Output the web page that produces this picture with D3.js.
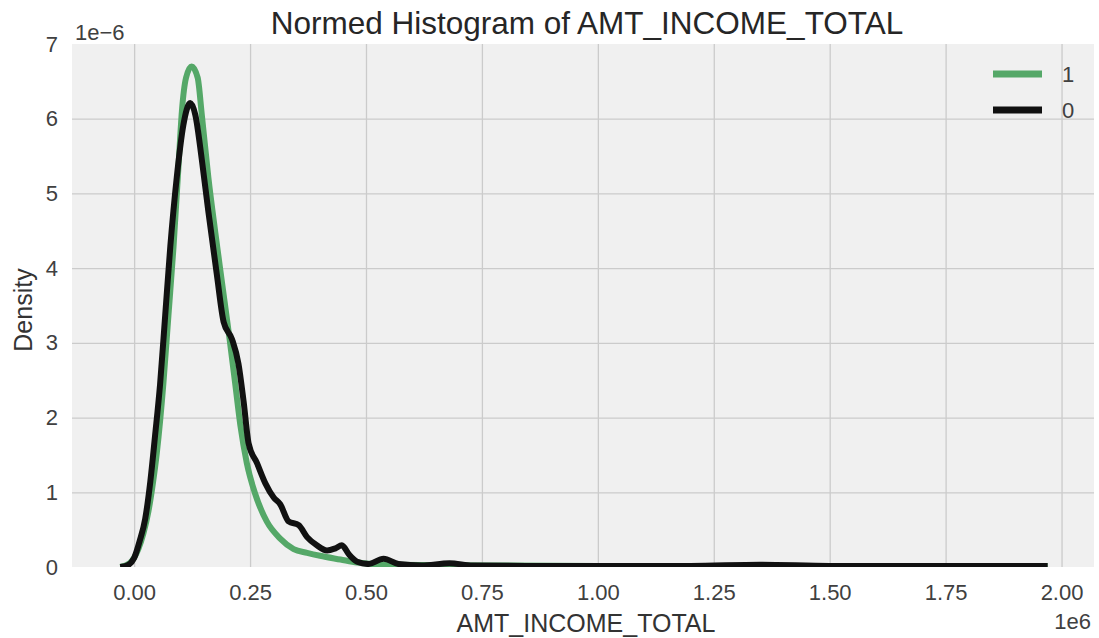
<!DOCTYPE html>
<html>
<head>
<meta charset="utf-8">
<script src="https://cdn.jsdelivr.net/npm/d3@7"></script>
<style>
  body { margin: 0; background: #ffffff; }
  svg { display: block; font-family: "Liberation Sans", Arial, sans-serif; }
  .grid-line { stroke: #cbcbcb; stroke-width: 1.3; }
  .tick text { fill: #404040; font-size: 22px; }
</style>
</head>
<body>
<svg></svg>
<script>
// values: x in units of 1e6, density in units of 1e-6
const income0 = [-0.030, -0.015, 0.000, 0.012, 0.024, 0.035, 0.045, 0.056, 0.067, 0.078, 0.092, 0.106, 0.121, 0.132, 0.146, 0.160, 0.178, 0.193, 0.211, 0.225, 0.236, 0.247, 0.265, 0.283, 0.301, 0.315, 0.333, 0.355, 0.373, 0.394, 0.416, 0.434, 0.448, 0.463, 0.481, 0.505, 0.538, 0.570, 0.620, 0.680, 0.730, 0.850, 1.000, 1.200, 1.350, 1.500, 1.750, 1.970];
const density0 = [0.00, 0.02, 0.12, 0.35, 0.65, 1.15, 1.75, 2.45, 3.37, 4.29, 5.22, 5.91, 6.21, 6.05, 5.45, 4.76, 3.93, 3.28, 3.05, 2.72, 2.22, 1.65, 1.39, 1.12, 0.93, 0.84, 0.61, 0.56, 0.40, 0.29, 0.22, 0.25, 0.29, 0.17, 0.07, 0.04, 0.11, 0.04, 0.02, 0.05, 0.02, 0.015, 0.015, 0.015, 0.03, 0.015, 0.015, 0.015];

const income1 = [-0.030, -0.010, 0.009, 0.020, 0.031, 0.040, 0.049, 0.063, 0.074, 0.085, 0.096, 0.103, 0.112, 0.124, 0.137, 0.146, 0.160, 0.175, 0.189, 0.204, 0.218, 0.229, 0.243, 0.261, 0.286, 0.315, 0.344, 0.373, 0.401, 0.445, 0.481, 0.550, 0.750, 1.000, 1.500, 1.970];
const density1 = [0.00, 0.05, 0.24, 0.45, 0.75, 1.10, 1.53, 2.45, 3.37, 4.29, 5.40, 6.10, 6.55, 6.70, 6.55, 6.05, 5.22, 4.48, 3.83, 3.14, 2.45, 1.90, 1.39, 0.98, 0.61, 0.38, 0.24, 0.19, 0.15, 0.10, 0.06, 0.03, 0.02, 0.015, 0.015, 0.015];

const xTicks = [0, 0.25, 0.5, 0.75, 1.0, 1.25, 1.5, 1.75, 2.0];
const yTicks = [0, 1, 2, 3, 4, 5, 6, 7];
const seriesNames = ["1", "0"];
const seriesColors = ["#55a868", "#111111"];

let width = 1099;
let height = 638;
let plotLeft = 72, plotRight = 1094, plotTop = 44, plotBottom = 567;

let svg = d3.select("svg")
  .attr("width", width)
  .attr("height", height);

// scales
let scaleX = d3.scaleLinear().domain([-0.134, 2.07]).range([plotLeft, plotRight]);
let scaleY = d3.scaleLinear().domain([0, 7]).range([plotBottom, plotTop]);

// plot background
svg.append("rect")
  .attr("x", plotLeft).attr("y", plotTop)
  .attr("width", plotRight - plotLeft).attr("height", plotBottom - plotTop)
  .attr("fill", "#f0f0f0");

// axes
let axisX = d3.axisBottom(scaleX)
  .tickValues(xTicks)
  .tickFormat(d3.format(".2f"))
  .tickSize(0)
  .tickPadding(17);

let axisY = d3.axisLeft(scaleY)
  .tickValues(yTicks)
  .tickFormat(d3.format("d"))
  .tickSize(0)
  .tickPadding(14);

svg.append("g")
  .attr("class", "x-axis")
  .attr("transform", `translate(0, ${plotBottom})`)
  .call(axisX)
  .call(g => g.select(".domain").remove());

svg.append("g")
  .attr("class", "y-axis")
  .attr("transform", `translate(${plotLeft}, 0)`)
  .call(axisY)
  .call(g => g.select(".domain").remove());

// grid lines
d3.selectAll("g.x-axis g.tick")
  .append("line")
  .classed("grid-line", true)
  .attr("x1", 0).attr("y1", 0)
  .attr("x2", 0).attr("y2", plotTop - plotBottom);

d3.selectAll("g.y-axis g.tick")
  .filter(d => d > 0 && d < 7)
  .append("line")
  .classed("grid-line", true)
  .attr("x1", 0).attr("y1", 0)
  .attr("x2", plotRight - plotLeft).attr("y2", 0);

// clip for the curves
svg.append("clipPath").attr("id", "plot-clip")
  .append("rect")
  .attr("x", plotLeft).attr("y", plotTop)
  .attr("width", plotRight - plotLeft).attr("height", plotBottom - plotTop);

let line = d3.line()
  .x(d => scaleX(d[0]))
  .y(d => scaleY(d[1]))
  .curve(d3.curveMonotoneX);

let curves = [
  d3.zip(income1, density1),
  d3.zip(income0, density0)
];

svg.append("g")
  .attr("clip-path", "url(#plot-clip)")
  .selectAll("path")
  .data(curves)
  .enter()
  .append("path")
  .attr("d", d => line(d))
  .attr("fill", "none")
  .attr("stroke", (d, i) => seriesColors[i])
  .attr("stroke-width", 6)
  .attr("stroke-linejoin", "round");

// legend
let legend = svg.append("g");
seriesNames.forEach(function(name, i) {
  let y = 74 + i * 36;
  legend.append("line")
    .attr("x1", 993).attr("x2", 1042)
    .attr("y1", y).attr("y2", y)
    .attr("stroke", seriesColors[i])
    .attr("stroke-width", 7);
  legend.append("text")
    .attr("x", 1062).attr("y", y + 8)
    .attr("font-size", 22)
    .attr("fill", "#404040")
    .text(name);
});

// texts
svg.append("text")
  .attr("x", 587).attr("y", 34)
  .attr("text-anchor", "middle")
  .attr("font-size", 31.5)
  .attr("fill", "#262626")
  .text("Normed Histogram of AMT_INCOME_TOTAL");

svg.append("text")
  .attr("x", 586).attr("y", 632)
  .attr("text-anchor", "middle")
  .attr("font-size", 25)
  .attr("fill", "#333333")
  .text("AMT_INCOME_TOTAL");

svg.append("text")
  .attr("transform", "translate(32, 310) rotate(-90)")
  .attr("text-anchor", "middle")
  .attr("font-size", 25)
  .attr("fill", "#333333")
  .text("Density");

svg.append("text")
  .attr("x", 75).attr("y", 40)
  .attr("font-size", 22)
  .attr("fill", "#404040")
  .text("1e\u22126");

svg.append("text")
  .attr("x", 1091).attr("y", 629)
  .attr("text-anchor", "end")
  .attr("font-size", 22)
  .attr("fill", "#404040")
  .text("1e6");
</script>
</body>
</html>
